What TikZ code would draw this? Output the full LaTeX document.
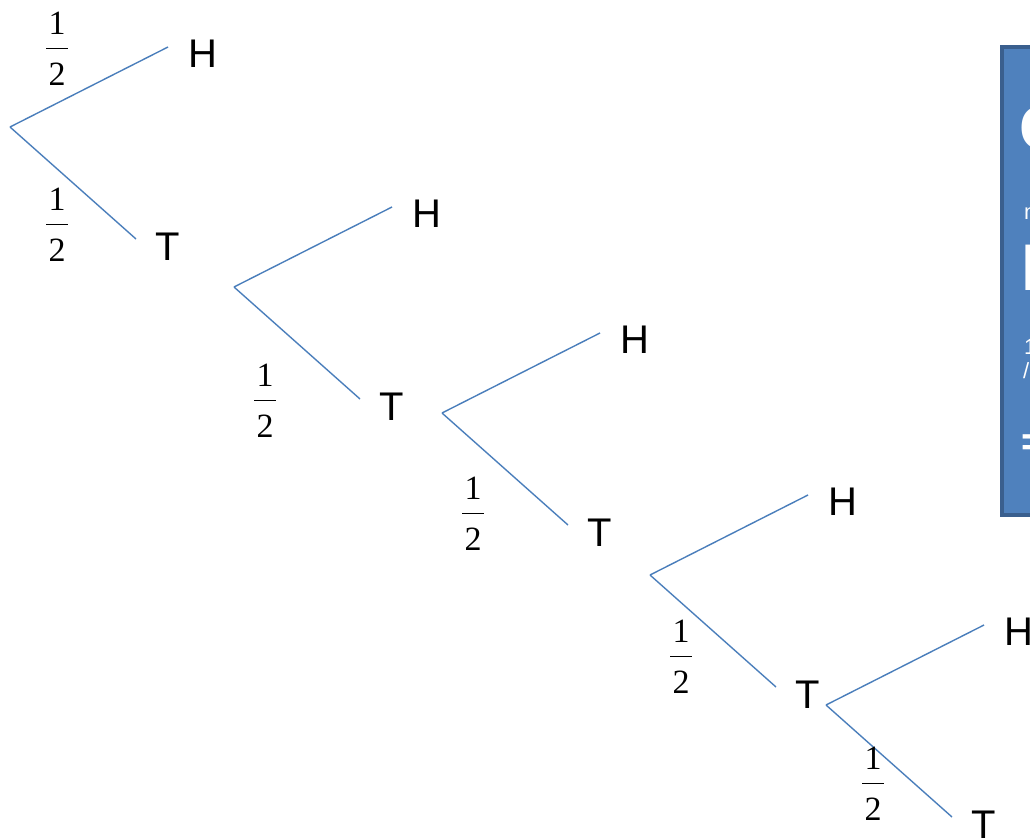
\documentclass[tikz,border=0pt]{standalone}
\usepackage{fontspec}
\setmainfont{Liberation Sans}
\newfontfamily\fracfont{Liberation Serif}
\definecolor{branch}{HTML}{4A7EBB}
\definecolor{boxfill}{HTML}{4F81BD}
\definecolor{boxline}{HTML}{3A5F8E}
\newcommand\half{{\fracfont\fontsize{34}{34}\selectfont\begin{tabular}{@{}c@{}}1\\[-19pt]\rule{22pt}{1.3pt}\\[2pt]2\end{tabular}}}
\tikzset{
  edge/.style={draw=branch, line width=1.4pt},
  outcome/.style={inner sep=0pt, font=\fontsize{40}{40}\selectfont},
  prob/.style={inner sep=0pt},
  boxtxt/.style={inner sep=0pt, text=white, font=\bfseries, anchor=west}
}
\begin{document}
\begin{tikzpicture}[x=1pt,y=-1pt]
\useasboundingbox (0,0) rectangle (1030,840);
\clip (0,0) rectangle (1030,840);
% right box (cut off by the edge)
\node[draw=boxline, fill=boxfill, line width=4pt, minimum width=80pt, minimum height=468pt, anchor=north west, inner sep=0pt] (box) at (1000,45) {};
\node[boxtxt, font=\bfseries\fontsize{62}{62}\selectfont] (b1) at (1019,128) {C};
\node[boxtxt, font=\fontsize{22}{22}\selectfont] (b2) at (1024,214) {n};
\node[boxtxt, font=\bfseries\fontsize{66}{66}\selectfont] (b3) at (1021,268) {I};
\node[boxtxt, font=\fontsize{22}{22}\selectfont] (b4) at (1024,347) {1};
\node[boxtxt, font=\fontsize{22}{22}\selectfont] (b5) at (1023,371) {/};
\node[boxtxt, font=\bfseries\fontsize{40}{40}\selectfont] (b6) at (1021,445) {=};
% tree
\foreach \i/\x/\y in {1/10/127, 2/234/287, 3/442/413, 4/650/575, 5/826/705}{
  \coordinate (r\i) at (\x,\y);
  \coordinate (h\i) at (\x+158,\y-80);
  \coordinate (t\i) at (\x+126,\y+112);
  \draw[edge] (r\i) -- (h\i);
  \draw[edge] (r\i) -- (t\i);
  \node[outcome] (H\i) at (\x+193,\y-73) {H};
  \node[outcome] (T\i) at (\x+158,\y+120) {T};
}
\node[prob] (p0) at (57,53) {\half};
\node[prob] (p1) at (57,229) {\half};
\node[prob] (p2) at (265,405) {\half};
\node[prob] (p3) at (473,518) {\half};
\node[prob] (p4) at (681,661) {\half};
\node[prob] (p5) at (873,788) {\half};
\end{tikzpicture}
\end{document}
